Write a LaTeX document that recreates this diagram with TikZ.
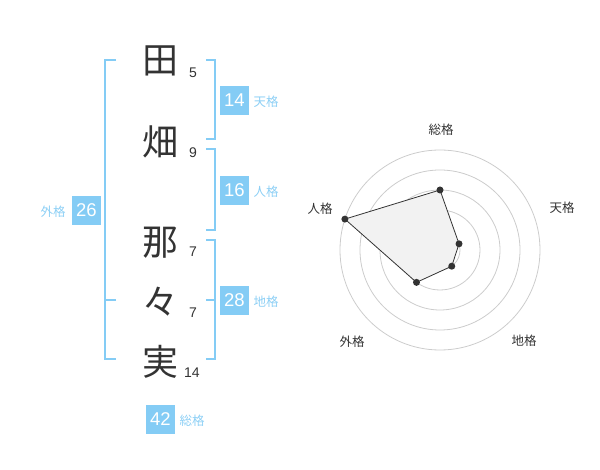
\documentclass[tikz,border=0pt]{standalone}
\usepackage{fontspec}
\setmainfont{Liberation Sans}
\newfontfamily\cjk{Noto Sans CJK JP}
\definecolor{bl}{HTML}{84CCF5}
\definecolor{bltxt}{HTML}{8CCFF5}
\definecolor{dk}{HTML}{333333}
\definecolor{ring}{HTML}{CCCCCC}
\begin{document}
\begin{tikzpicture}[x=1pt,y=-1pt,
  kanji/.style={inner sep=0pt,text=dk,font=\cjk\fontsize{36}{36}\selectfont},
  strokes/.style={inner sep=0pt,text=dk,font=\fontsize{14}{14}\selectfont},
  valbox/.style={fill=bl,text=white,minimum width=29,minimum height=29,inner sep=0pt,font=\fontsize{18.5}{18.5}\selectfont},
  vallbl/.style={inner sep=0pt,text=bltxt,font=\cjk\fontsize{12.5}{12.5}\selectfont},
  brk/.style={draw=bl,line width=2},
  radlbl/.style={inner sep=0pt,text=dk,font=\cjk\fontsize{12.5}{12.5}\selectfont},
  ringc/.style={draw=ring,line width=0.8},
  dot/.style={circle,fill=dk,inner sep=0pt,minimum size=7}]
\useasboundingbox (0,0) rectangle (600,470);
% characters
\node[kanji] (k1) at (160,61) {田};
\node[kanji] (k2) at (160,142) {畑};
\node[kanji] (k3) at (160,243) {那};
\node[kanji] (k4) at (160,302) {々};
\node[kanji] (k5) at (160,362) {実};
% strokes
\node[strokes] (s1) at (193,73) {5};
\node[strokes] (s2) at (193,153) {9};
\node[strokes] (s3) at (193,252) {7};
\node[strokes] (s4) at (193,313) {7};
\node[strokes] (s5) at (192,373) {14};
% right brackets
\coordinate (a1) at (206,60); \coordinate (a2) at (215,60);
\coordinate (a3) at (215,139); \coordinate (a4) at (206,139);
\draw[brk] (a1) -- (a2) -- (a3) -- (a4);
\coordinate (b1) at (206,149); \coordinate (b2) at (215,149);
\coordinate (b3) at (215,230); \coordinate (b4) at (206,230);
\draw[brk] (b1) -- (b2) -- (b3) -- (b4);
\coordinate (c1) at (206,240); \coordinate (c2) at (215,240);
\coordinate (c3) at (215,359); \coordinate (c4) at (206,359);
\coordinate (c5) at (206,300); \coordinate (c6) at (215,300);
\draw[brk] (c1) -- (c2) -- (c3) -- (c4);
\draw[brk] (c5) -- (c6);
% left bracket
\coordinate (d1) at (116,60); \coordinate (d2) at (105,60);
\coordinate (d3) at (105,359); \coordinate (d4) at (116,359);
\coordinate (d5) at (116,300); \coordinate (d6) at (105,300);
\draw[brk] (d1) -- (d2) -- (d3) -- (d4);
\draw[brk] (d5) -- (d6);
% value boxes
\node[valbox] (v1) at (234.5,100.5) {14};
\node[vallbl] (l1) at (266,102) {天格};
\node[valbox] (v2) at (234.5,190.5) {16};
\node[vallbl] (l2) at (266,192) {人格};
\node[valbox] (v3) at (234.5,300.5) {28};
\node[vallbl] (l3) at (266,302) {地格};
\node[valbox] (v4) at (86.5,210.5) {26};
\node[vallbl] (l4) at (53,212) {外格};
\node[valbox] (v5) at (160.5,419) {42};
\node[vallbl] (l5) at (192,421) {総格};
% radar
\begin{scope}[shift={(440,250)}]
  \foreach \r in {20,40,60,80,100} \draw[ringc] (0,0) circle[radius=\r];
  \node[circle,fill=ring,inner sep=0pt,minimum size=7] (ctr) at (0,0) {};
  \coordinate (p1) at (-90:60);
  \coordinate (p2) at (-18:20);
  \coordinate (p3) at (54:20);
  \coordinate (p4) at (126:40);
  \coordinate (p5) at (-162:100);
  \fill[black!5] (p1) -- (p2) -- (p3) -- (p4) -- (p5) -- cycle;
  \draw[dk,line width=0.8] (p1) -- (p2) -- (p3) -- (p4) -- (p5) -- cycle;
  \foreach \i in {1,...,5} \node[dot] (q\i) at (p\i) {};
\end{scope}
\node[radlbl] (r1) at (441,130) {総格};
\node[radlbl] (r2) at (562,208) {天格};
\node[radlbl] (r3) at (524,341) {地格};
\node[radlbl] (r4) at (352,342) {外格};
\node[radlbl] (r5) at (320,209) {人格};
\end{tikzpicture}
\end{document}
